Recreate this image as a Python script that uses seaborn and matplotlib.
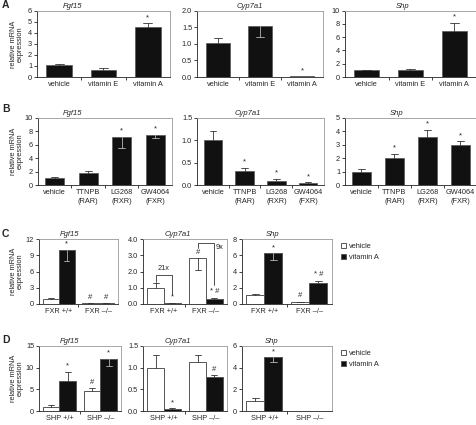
import numpy as np
import pandas as pd
import seaborn as sns
import matplotlib.pyplot as plt
from matplotlib.ticker import FormatStrFormatter

sns.set_theme(style="white")
plt.rcParams['font.family'] = ['Liberation Sans', 'DejaVu Sans']

# --- data (err > 0: error bar upwards, err < 0: downwards) ---
a_groups = ['vehicle', 'vitamin E', 'vitamin A']
a_fgf15 = [1.05, 0.66, 4.5]
a_fgf15_err = [0.15, 0.14, 0.36]
a_fgf15_sig = ['', '', '*']
a_cyp7a1 = [1.02, 1.55, 0.02]
a_cyp7a1_err = [0.17, -0.35, 0.0]
a_cyp7a1_sig = ['', '', '*']
a_shp = [1.0, 1.0, 7.0]
a_shp_err = [0.1, 0.25, 1.2]
a_shp_sig = ['', '', '*']

b_groups = ['vehicle', 'TTNPB\n(RAR)', 'LG268\n(RXR)', 'GW4064\n(FXR)']
b_fgf15 = [1.1, 1.75, 7.2, 7.5]
b_fgf15_err = [0.12, 0.35, -1.7, -0.5]
b_fgf15_sig = ['', '', '*', '*']
b_cyp7a1 = [1.0, 0.31, 0.1, 0.05]
b_cyp7a1_err = [0.2, 0.08, 0.03, 0.01]
b_cyp7a1_sig = ['', '*', '*', '*']
b_shp = [1.0, 2.05, 3.6, 2.95]
b_shp_err = [0.22, 0.25, 0.5, 0.3]
b_shp_sig = ['', '*', '*', '*']

treatments = ['vehicle', 'vitamin A']
treat_colors = {'vehicle': 'white', 'vitamin A': '#111111'}

# order per panel: (+/+ vehicle, +/+ vitamin A, -/- vehicle, -/- vitamin A)
c_groups = ['FXR +/+', 'FXR \u2013/\u2013']
c_fgf15 = [1.0, 10.0, 0.15, 0.15]
c_fgf15_err = [0.15, -2.1, 0.03, 0.03]
c_fgf15_sig = ['', '*', '#', '#']
c_cyp7a1 = [0.98, 0.06, 2.82, 0.33]
c_cyp7a1_err = [0.3, 0.01, -0.72, 0.06]
c_cyp7a1_sig = ['', '*', '#', '* #']
c_folds = ['21x', '9x']
c_shp = [1.05, 6.25, 0.24, 2.6]
c_shp_err = [0.17, -0.85, 0.06, 0.28]
c_shp_sig = ['', '*', '#', '* #']

d_groups = ['SHP +/+', 'SHP \u2013/\u2013']
d_fgf15 = [1.0, 7.0, 4.7, 12.0]
d_fgf15_err = [0.3, 2.1, 0.5, -1.5]
d_fgf15_sig = ['', '*', '#', '*']
d_cyp7a1 = [1.0, 0.05, 1.13, 0.78]
d_cyp7a1_err = [0.3, 0.01, 0.17, 0.05]
d_cyp7a1_sig = ['', '*', '', '#']
d_shp = [0.95, 4.95, np.nan, np.nan]
d_shp_err = [0.27, -0.4, 0.0, 0.0]
d_shp_sig = ['', '*', '', '']

W, H = 477, 425
fig = plt.figure(figsize=(W / 100, H / 100), dpi=100)


def px_axes(x0, x1, ytop, ybot):
    return fig.add_axes([x0 / W, 1 - ybot / H, (x1 - x0) / W, (ybot - ytop) / H])


def single_df(groups, values, errs, sigs):
    return pd.DataFrame({'group': groups, 'value': values, 'err': errs, 'sig': sigs})


def hue_df(groups, values, errs, sigs):
    return pd.DataFrame({'group': np.repeat(groups, 2), 'treatment': treatments * len(groups),
                         'value': values, 'err': errs, 'sig': sigs})


def bar_list(ax):
    # only the real bars (seaborn keeps them in containers)
    return sorted([b for c in ax.containers for b in c], key=lambda p: p.get_x())


def draw_panel(ax, df, order, title, title_px, ylim, yticks, fmt=None, legend=False):
    df = df.dropna(subset=['value']).reset_index(drop=True)
    if 'treatment' in df:
        sns.barplot(data=df, x='group', y='value', hue='treatment', order=order,
                    hue_order=treatments, palette=treat_colors, width=0.8,
                    edgecolor='#555555', linewidth=0.7, errorbar=None, legend=legend, ax=ax)
    else:
        sns.barplot(data=df, x='group', y='value', order=order, color='#111111',
                    width=0.58, edgecolor='#555555', linewidth=0.5, errorbar=None, ax=ax)
    span = ylim[1] - ylim[0]
    for bar, (_, row) in zip(bar_list(ax), df.iterrows()):
        xc = bar.get_x() + bar.get_width() / 2
        top = bar.get_height()
        e = row['err']
        dark = bar.get_facecolor()[0] < 0.5
        if e != 0:
            col = '#b5b5b5' if (e < 0 and dark) else '#333333'
            half = bar.get_width() * 0.18
            ax.plot([xc, xc], [top, top + e], color=col, lw=0.6)
            ax.plot([xc - half, xc + half], [top + e, top + e], color=col, lw=0.6)
        if row['sig']:
            ax.text(xc, max(top, top + e) + span * 0.035, row['sig'],
                    ha='center', va='bottom', fontsize=5.5)

    n = len(order)
    ax.set_xlim(-0.5, n - 0.5)
    ax.set_ylim(*ylim)
    ax.set_yticks(yticks)
    if fmt:
        ax.yaxis.set_major_formatter(FormatStrFormatter(fmt))
    ax.set_xticks(np.arange(n - 1) + 0.5, minor=True)
    ax.tick_params(axis='x', which='major', length=0, pad=3, labelsize=5.3)
    ax.tick_params(axis='x', which='minor', length=2.5, width=0.6, bottom=True, color='#222222')
    ax.tick_params(axis='y', length=2, width=0.6, pad=1.5, labelsize=5.3, left=True, color='#222222')
    for lbl in ax.get_xticklabels():
        lbl.set_linespacing(1.45)
    ax.set_xlabel('')
    ax.set_ylabel('')
    x0, x1 = ax.get_position().x0 * W, ax.get_position().x1 * W
    ax.set_title(title, fontsize=5.5, style='italic', pad=2, x=(title_px - x0) / (x1 - x0))
    for s in ['left', 'bottom']:
        ax.spines[s].set_color('#222222')
        ax.spines[s].set_linewidth(0.6)
    for s in ['top', 'right']:
        ax.spines[s].set_color('#999999')
        ax.spines[s].set_linewidth(0.6)
    if legend:
        sns.move_legend(ax, 'upper left', bbox_to_anchor=(1.03, 1.04), title=None,
                        frameon=False, fontsize=5.3, handlelength=0.7, handleheight=0.7,
                        handletextpad=0.35, labelspacing=0.55)
    return ax


# --- row A ---
ax = px_axes(37, 170, 10.7, 77)
draw_panel(ax, single_df(a_groups, a_fgf15, a_fgf15_err, a_fgf15_sig), a_groups,
           'Fgf15', 73, (0, 6), range(0, 7))
ax = px_axes(197, 323, 10.7, 77)
draw_panel(ax, single_df(a_groups, a_cyp7a1, a_cyp7a1_err, a_cyp7a1_sig), a_groups,
           'Cyp7a1', 250, (0, 2), np.arange(0, 2.01, 0.5), fmt='%.1f')
ax = px_axes(345, 476, 10.7, 77)
draw_panel(ax, single_df(a_groups, a_shp, a_shp_err, a_shp_sig), a_groups,
           'Shp', 403, (0, 10), range(0, 11, 2))

# --- row B ---
ax = px_axes(38, 172, 118, 185)
draw_panel(ax, single_df(b_groups, b_fgf15, b_fgf15_err, b_fgf15_sig), b_groups,
           'Fgf15', 73, (0, 10), range(0, 11, 2))
ax = px_axes(197, 324, 118, 185)
draw_panel(ax, single_df(b_groups, b_cyp7a1, b_cyp7a1_err, b_cyp7a1_sig), b_groups,
           'Cyp7a1', 248, (0, 1.5), np.arange(0, 1.51, 0.5), fmt='%.1f')
ax = px_axes(345, 477, 118, 185)
draw_panel(ax, single_df(b_groups, b_shp, b_shp_err, b_shp_sig), b_groups,
           'Shp', 397, (0, 5), range(0, 6))

# --- row C ---
ax = px_axes(39, 118, 239, 304)
draw_panel(ax, hue_df(c_groups, c_fgf15, c_fgf15_err, c_fgf15_sig), c_groups,
           'Fgf15', 70, (0, 12), range(0, 13, 3))
ax_c2 = px_axes(143, 227, 239, 304)
draw_panel(ax_c2, hue_df(c_groups, c_cyp7a1, c_cyp7a1_err, c_cyp7a1_sig), c_groups,
           'Cyp7a1', 178, (0, 4), np.arange(0, 4.01, 1.0), fmt='%.1f')
ax = px_axes(242, 332, 239, 304)
draw_panel(ax, hue_df(c_groups, c_shp, c_shp_err, c_shp_sig), c_groups,
           'Shp', 273, (0, 8), range(0, 9, 2), legend=True)

# fold-change brackets on Cyp7a1 (C)
cx = [b.get_x() + b.get_width() / 2 for b in bar_list(ax_c2)]
ax_c2.plot([cx[0], cx[0], cx[1], cx[1]], [1.38, 1.78, 1.78, 0.6], color='#333333', lw=0.6)
ax_c2.text((cx[0] + cx[1]) / 2, 1.95, c_folds[0], ha='center', va='bottom', fontsize=5.3)
ax_c2.plot([cx[2], cx[2], cx[3], cx[3]], [3.45, 3.75, 3.75, 1.2], color='#333333', lw=0.6)
ax_c2.text(cx[3] + 0.04, 3.5, c_folds[1], ha='left', va='center', fontsize=5.3)

# --- row D ---
ax = px_axes(39, 121, 346, 411)
draw_panel(ax, hue_df(d_groups, d_fgf15, d_fgf15_err, d_fgf15_sig), d_groups,
           'Fgf15', 70, (0, 15), range(0, 16, 5))
ax = px_axes(143, 227, 346, 411)
draw_panel(ax, hue_df(d_groups, d_cyp7a1, d_cyp7a1_err, d_cyp7a1_sig), d_groups,
           'Cyp7a1', 178, (0, 1.5), np.arange(0, 1.51, 0.5), fmt='%.1f')
ax = px_axes(242, 332, 346, 411)
draw_panel(ax, hue_df(d_groups, d_shp, d_shp_err, d_shp_sig), d_groups,
           'Shp', 272, (0, 6), range(0, 7, 2), legend=True)

# --- panel letters and y labels ---
for letter, ytop in [('A', 0), ('B', 104), ('C', 229), ('D', 335)]:
    fig.text(2 / W, 1 - ytop / H, letter, ha='left', va='top', fontsize=7.5, weight='bold')
for yc in [44, 151, 271, 378]:
    fig.text(17 / W, 1 - yc / H, 'relative mRNA\nexpression', rotation=90, ha='center',
             va='center', fontsize=5.3, linespacing=1.0, multialignment='center')

fig.savefig('out.png', dpi=100)
